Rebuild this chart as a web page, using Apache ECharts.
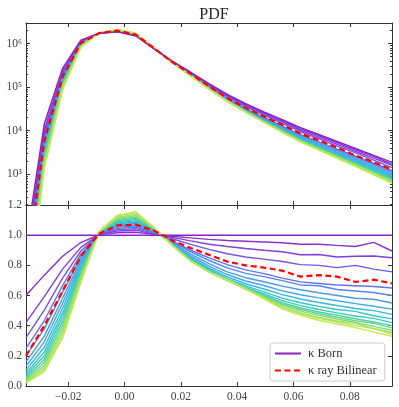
<!DOCTYPE html>
<html>
<head>
<meta charset="utf-8">
<script src="https://cdn.jsdelivr.net/npm/echarts@6/dist/echarts.min.js"></script>
<style>
  html, body { margin: 0; padding: 0; background: #fff; }
  #main { width: 399px; height: 407px; }
</style>
</head>
<body>
<div id="main"></div>
<script>
// bin centres of kappa
const xValues = [-0.035, -0.0285, -0.022, -0.0155, -0.009, -0.0025, 0.004, 0.0105, 0.017, 0.0235, 0.03,
  0.0365, 0.043, 0.0495, 0.056, 0.0625, 0.069, 0.0755, 0.082, 0.0885, 0.095];

// PDF of kappa Born (top panel, log scale)
const bornPdf = [25, 14100, 270000, 1.20e6, 1.72e6, 1.86e6, 1.50e6, 7.59e5, 3.89e5, 2.19e5, 1.20e5,
  6.76e4, 4.17e4, 2.69e4, 1.78e4, 1.17e4, 8130, 5620, 3890, 2690, 1860];

// ratio of Born to itself (flat line)
const bornRatio = [1, 1, 1, 1, 1, 1, 1, 1, 1, 1, 1, 1, 1, 1, 1, 1, 1, 1, 1, 1, 1];

// ratio kappa ray Bilinear / kappa Born (red dashed)
const bilinearRatio = [0.20, 0.40, 0.63, 0.86, 1.01, 1.065, 1.07, 1.03, 0.965, 0.915, 0.87,
  0.825, 0.80, 0.785, 0.765, 0.725, 0.735, 0.725, 0.69, 0.705, 0.68];

// ratio of each ray-traced map / Born (purple -> yellow green)
const rayRatios = [
  [0.60, 0.735, 0.86, 0.951, 1.004, 1.016, 1.019, 1.005, 0.993, 0.982, 0.972, 0.965, 0.96, 0.955, 0.95, 0.94, 0.94, 0.932, 0.925, 0.952, 0.895],
  [0.42, 0.593, 0.775, 0.919, 1.006, 1.028, 1.033, 1.007, 0.985, 0.962, 0.94, 0.925, 0.912, 0.90, 0.89, 0.87, 0.872, 0.855, 0.86, 0.862, 0.85],
  [0.32, 0.503, 0.715, 0.895, 1.008, 1.037, 1.043, 1.012, 0.976, 0.939, 0.906, 0.877, 0.855, 0.841, 0.825, 0.805, 0.80, 0.785, 0.80, 0.775, 0.757],
  [0.25, 0.434, 0.665, 0.874, 1.010, 1.045, 1.052, 1.019, 0.96, 0.90, 0.85, 0.805, 0.77, 0.745, 0.715, 0.69, 0.68, 0.67, 0.665, 0.66, 0.65],
  [0.20, 0.379, 0.622, 0.855, 1.011, 1.053, 1.061, 1.023, 0.955, 0.889, 0.832, 0.783, 0.747, 0.725, 0.699, 0.67, 0.665, 0.64, 0.63, 0.62, 0.60],
  [0.16, 0.331, 0.582, 0.836, 1.013, 1.061, 1.070, 1.027, 0.949, 0.875, 0.811, 0.757, 0.718, 0.691, 0.662, 0.638, 0.618, 0.600, 0.582, 0.575, 0.55],
  [0.13, 0.293, 0.548, 0.820, 1.014, 1.068, 1.078, 1.031, 0.944, 0.863, 0.795, 0.739, 0.696, 0.666, 0.631, 0.605, 0.584, 0.565, 0.546, 0.529, 0.51],
  [0.105, 0.257, 0.514, 0.803, 1.016, 1.075, 1.087, 1.034, 0.940, 0.853, 0.782, 0.723, 0.678, 0.643, 0.606, 0.577, 0.554, 0.534, 0.514, 0.50, 0.475],
  [0.085, 0.226, 0.483, 0.787, 1.017, 1.082, 1.095, 1.037, 0.937, 0.845, 0.771, 0.712, 0.664, 0.624, 0.583, 0.552, 0.528, 0.507, 0.495, 0.466, 0.445],
  [0.07, 0.201, 0.457, 0.772, 1.019, 1.089, 1.103, 1.040, 0.935, 0.839, 0.763, 0.703, 0.653, 0.610, 0.566, 0.533, 0.507, 0.485, 0.464, 0.448, 0.42],
  [0.057, 0.178, 0.430, 0.756, 1.020, 1.096, 1.112, 1.042, 0.933, 0.834, 0.759, 0.700, 0.647, 0.601, 0.552, 0.517, 0.491, 0.469, 0.446, 0.424, 0.40],
  [0.046, 0.157, 0.404, 0.741, 1.022, 1.104, 1.120, 1.044, 0.933, 0.832, 0.757, 0.699, 0.645, 0.595, 0.543, 0.507, 0.479, 0.456, 0.433, 0.415, 0.385],
  [0.037, 0.137, 0.378, 0.725, 1.023, 1.111, 1.129, 1.046, 0.932, 0.830, 0.756, 0.699, 0.643, 0.589, 0.535, 0.496, 0.468, 0.444, 0.421, 0.395, 0.37],
  [0.03, 0.121, 0.356, 0.711, 1.025, 1.119, 1.138, 1.048, 0.932, 0.828, 0.755, 0.700, 0.642, 0.583, 0.525, 0.485, 0.455, 0.431, 0.415, 0.381, 0.355],
  [0.024, 0.106, 0.333, 0.696, 1.026, 1.127, 1.148, 1.049, 0.933, 0.829, 0.757, 0.704, 0.645, 0.583, 0.521, 0.479, 0.448, 0.424, 0.400, 0.38, 0.345],
  [0.02, 0.095, 0.317, 0.684, 1.027, 1.133, 1.155, 1.051, 0.932, 0.827, 0.756, 0.705, 0.644, 0.578, 0.512, 0.468, 0.436, 0.411, 0.387, 0.357, 0.33]
];

const xTicks = [-0.02, 0, 0.02, 0.04, 0.06, 0.08];
const logTicks = [1e3, 1e4, 1e5, 1e6];
const logMinorTicks = [200, 300, 400, 500, 600, 700, 800, 900, 2000, 3000, 4000, 5000, 6000, 7000, 8000, 9000,
  2e4, 3e4, 4e4, 5e4, 6e4, 7e4, 8e4, 9e4, 2e5, 3e5, 4e5, 5e5, 6e5, 7e5, 8e5, 9e5, 2e6];

const rayColors = ['#8a30d0', '#8040dc', '#7456e6', '#6470ec', '#5884ee', '#4c98ec', '#40aae6', '#38b8dc',
  '#34c4cc', '#3ccab8', '#50d0a4', '#68d690', '#84dc7c', '#a0e268', '#b4e658', '#c4ea50'];

const serif = "'Liberation Serif', 'DejaVu Serif', serif";
const axisColor = '#333';
const sup = { 3: '\u00b3', 4: '\u2074', 5: '\u2075', 6: '\u2076' };

var myChart = echarts.init(document.getElementById('main'));

const xAxisFor = (gridIndex, position, showLabel) => ({
  type: 'value', gridIndex: gridIndex, position: position,
  min: -0.035, max: 0.095,
  axisLine: { show: true, onZero: false, lineStyle: { color: axisColor, width: 1 } },
  axisTick: { show: true, inside: true, length: 4, customValues: xTicks, lineStyle: { color: axisColor } },
  axisLabel: {
    show: showLabel, customValues: xTicks, margin: 5,
    fontFamily: serif, fontSize: 11.5, color: '#444',
    formatter: (v) => (v < 0 ? '\u2212' : '') + Math.abs(v).toFixed(2)
  },
  splitLine: { show: false }
});

const logAxisFor = (position, minor) => ({
  type: 'log', gridIndex: 0, position: position,
  min: 195, max: 2.97e6,
  axisLine: { show: !minor, onZero: false, lineStyle: { color: axisColor, width: 1 } },
  axisTick: { show: true, inside: true, length: minor ? 2 : 4, customValues: minor ? logMinorTicks : logTicks,
    lineStyle: { color: axisColor } },
  axisLabel: {
    show: position === 'left' && !minor, customValues: logTicks, margin: 4,
    fontFamily: serif, fontSize: 11.5, color: '#444',
    formatter: (v) => '10' + sup[Math.round(Math.log10(v))]
  },
  splitLine: { show: false }
});

const ratioAxisFor = (position) => ({
  type: 'value', gridIndex: 1, position: position,
  min: 0, max: 1.2, interval: 0.2,
  axisLine: { show: true, onZero: false, lineStyle: { color: axisColor, width: 1 } },
  axisTick: { show: true, inside: true, length: 4, lineStyle: { color: axisColor } },
  axisLabel: {
    show: position === 'left', margin: 4,
    fontFamily: serif, fontSize: 11.5, color: '#444',
    formatter: (v) => v.toFixed(1)
  },
  splitLine: { show: false }
});

const lineSeries = (name, xIdx, yIdx, data, color, width, type) => ({
  name: name, type: 'line', xAxisIndex: xIdx, yAxisIndex: yIdx,
  data: data, symbol: 'none', showSymbol: false, clip: true, silent: true,
  lineStyle: { color: color, width: width, type: type || 'solid' },
  itemStyle: { color: color },
  emphasis: { disabled: true }
});

const pairs = (ratio, scale) => xValues.map((x, i) => [x, scale ? bornPdf[i] * ratio[i] : ratio[i]]);

var series = [];
rayRatios.forEach((r, k) => {
  series.push(lineSeries('ray' + k, 0, 0, pairs(r, true), rayColors[k], 1.4));
});
rayRatios.forEach((r, k) => {
  series.push(lineSeries('ray' + k, 2, 4, pairs(r, false), rayColors[k], 1.4));
});
series.push(lineSeries('\u03ba Born', 0, 0, pairs(bornRatio, true), '#8a22c8', 1.5));
series.push(lineSeries('\u03ba Born', 2, 4, pairs(bornRatio, false), '#8a22c8', 1.5));
series.push(lineSeries('\u03ba ray Bilinear', 0, 0, pairs(bilinearRatio, true), '#ff0000', 2.2, [6, 3.5]));
series.push(lineSeries('\u03ba ray Bilinear', 2, 4, pairs(bilinearRatio, false), '#ff0000', 2.2, [6, 3.5]));

var option = {
  animation: false,
  backgroundColor: '#fff',
  title: {
    text: 'PDF', left: 209, top: 2, textAlign: 'center',
    textStyle: { fontFamily: serif, fontSize: 16, fontWeight: 'normal', color: '#222' }
  },
  grid: [
    { left: 26, right: 7, top: 23, height: 182 },
    { left: 26, right: 7, top: 205, height: 181 }
  ],
  xAxis: [
    xAxisFor(0, 'bottom', false),
    xAxisFor(0, 'top', false),
    xAxisFor(1, 'bottom', true),
    xAxisFor(1, 'top', false)
  ],
  yAxis: [
    logAxisFor('left', false),
    logAxisFor('left', true),
    logAxisFor('right', false),
    logAxisFor('right', true),
    ratioAxisFor('left'),
    ratioAxisFor('right')
  ],
  legend: {
    data: ['\u03ba Born', '\u03ba ray Bilinear'],
    orient: 'vertical', left: 270, top: 343,
    itemWidth: 26, itemHeight: 12, itemGap: 4,
    padding: [4, 8, 4, 4],
    backgroundColor: 'rgba(255,255,255,0.8)',
    borderColor: '#cccccc', borderWidth: 1, borderRadius: 3,
    itemStyle: { opacity: 0 },
    textStyle: { fontFamily: serif, fontSize: 12.5, color: '#333', padding: [0, 0, 0, 2] },
    selectedMode: false
  },
  series: series
};

myChart.setOption(option);
</script>
</body>
</html>
